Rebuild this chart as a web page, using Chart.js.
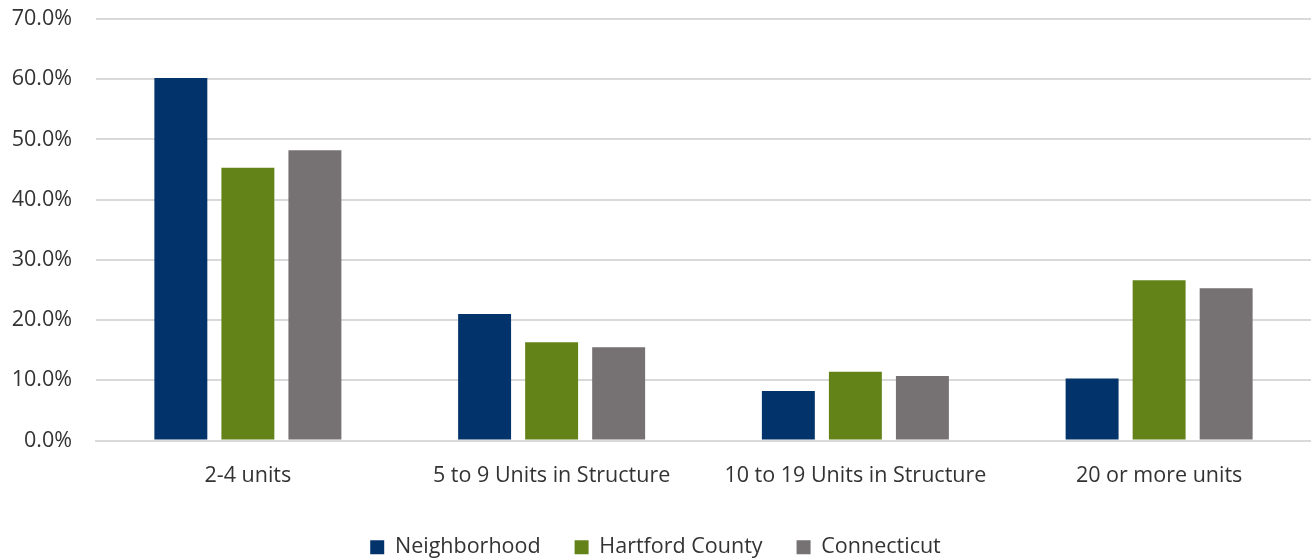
<!DOCTYPE html>
<html>
<head>
<meta charset="utf-8">
<script src="https://cdn.jsdelivr.net/npm/chart.js@4.4.1/dist/chart.umd.min.js"></script>
<style>
  html, body { margin: 0; padding: 0; background: #fff; }
  #wrap { width: 1311px; height: 559px; position: relative; }
</style>
</head>
<body>
<div id="wrap"><canvas id="chart"></canvas></div>
<script>
const categories = ['2-4 units', '5 to 9 Units in Structure', '10 to 19 Units in Structure', '20 or more units'];
const neighborhood = [60.2, 21.0, 8.2, 10.3];
const hartfordCounty = [45.3, 16.3, 11.4, 26.6];
const connecticut = [48.2, 15.5, 10.7, 25.3];
const seriesNames = ['Neighborhood', 'Hartford County', 'Connecticut'];
const seriesColors = ['#02336a', '#638319', '#767173'];

const textColor = '#333333';
const gridColor = '#d9d9d9';
const fontFamily = '"Open Sans", "Noto Sans", sans-serif';

const ctx = document.getElementById('chart').getContext('2d');
new Chart(ctx, {
  type: 'bar',
  data: {
    labels: categories,
    datasets: [neighborhood, hartfordCounty, connecticut].map((values, i) => ({
      label: seriesNames[i],
      data: values,
      backgroundColor: seriesColors[i],
      categoryPercentage: 0.662,
      barPercentage: 0.79
    }))
  },
  options: {
    responsive: true,
    maintainAspectRatio: false,
    animation: false,
    layout: { padding: { top: 0, right: 0, left: 0, bottom: -9 } },
    plugins: {
      tooltip: { enabled: false },
      legend: {
        position: 'bottom',
        labels: {
          color: textColor,
          font: { family: fontFamily, size: 21.5 },
          boxWidth: 14,
          boxHeight: 14,
          padding: 34
        }
      }
    },
    scales: {
      x: {
        grid: { display: false },
        border: { color: gridColor, width: 2 },
        ticks: {
          color: textColor,
          font: { family: fontFamily, size: 21.5 },
          padding: 14,
          maxRotation: 0
        },
        afterFit: (scale) => { scale.height = 62; }
      },
      y: {
        min: 0,
        max: 70,
        grid: { color: gridColor, lineWidth: 2, drawTicks: false },
        border: { display: false },
        ticks: {
          stepSize: 10,
          color: textColor,
          font: { family: fontFamily, size: 21.5 },
          padding: 24,
          callback: (v) => v.toFixed(1) + '%'
        },
        afterFit: (scale) => {
          scale.width = 96;
          scale.paddingTop = 19;
          scale.paddingBottom = 0;
        }
      }
    }
  }
});
</script>
</body>
</html>
